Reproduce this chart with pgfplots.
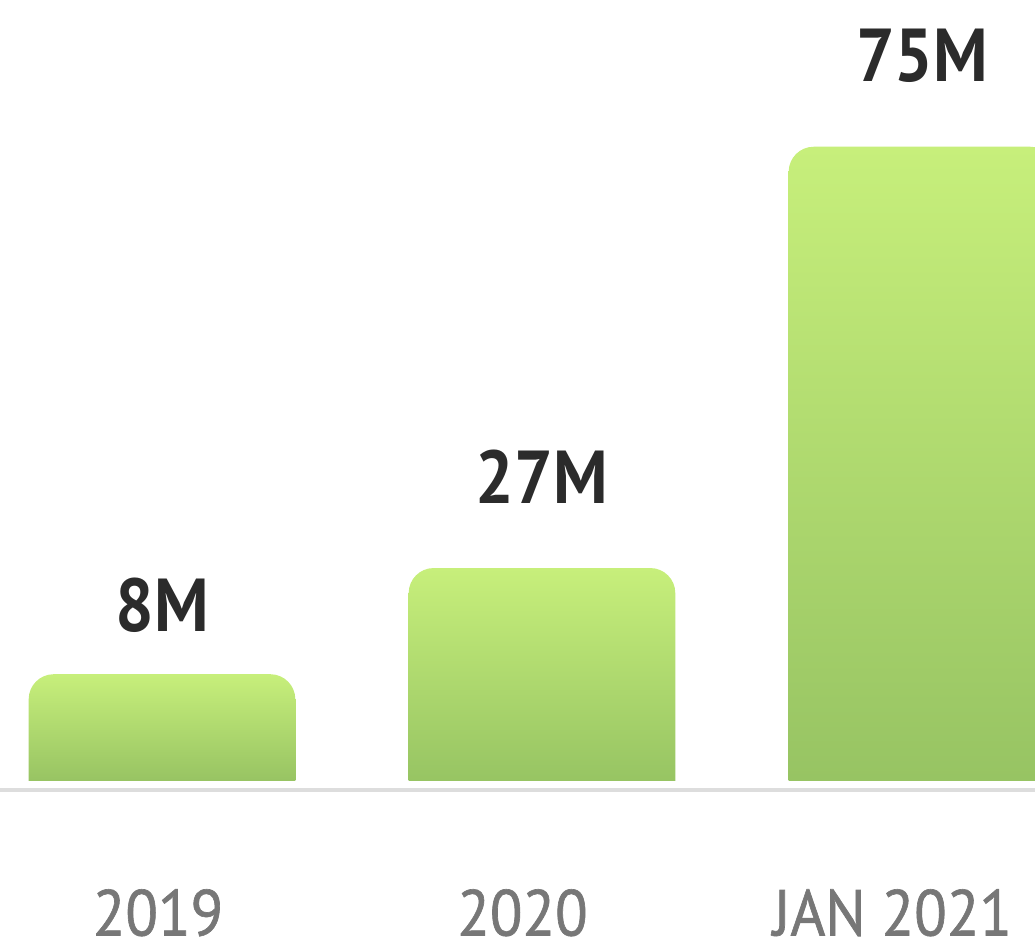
\documentclass[border=0pt]{standalone}
\usepackage{fontspec}
\setmainfont{PT Sans}
\newfontfamily\yearfont[FakeStretch=0.92, FakeBold=1]{PT Sans}
\newfontfamily\valuefont[FakeStretch=0.91]{PT Sans Bold}
\usepackage{pgfplots}
\pgfplotsset{compat=1.18}
\definecolor{barTop}{RGB}{199,239,123}
% bottom colours sit below the clipped base, so each is pushed a bit darker
\definecolor{barBotA}{RGB}{140,185,93}
\definecolor{barBotB}{RGB}{145,191,96}
\definecolor{barBotC}{RGB}{149,194,98}
\definecolor{labelGray}{RGB}{119,119,119}
\definecolor{valueDark}{RGB}{43,43,43}
\definecolor{lineGray}{RGB}{221,221,221}

\begin{document}
\begin{tikzpicture}
  \begin{axis}[
      scale only axis, width=1035pt, height=780.7pt,
      xmin=-0.4263, xmax=2.2974, ymin=0, ymax=92.36,
      % bars are lifted by 3.1 and pushed down by the same amount, so their
      % rounded bottom corners fall below the clipped axis floor
      y filter/.expression={y+3.1},
      axis line style={draw=none}, major tick length=0pt,
      ytick=\empty,
      xtick={-0.0105,0.9487,1.9224},
      xticklabels={2019,2020,JAN 2021},
      xticklabel style={anchor=base, inner sep=0pt, yshift=-154.8pt,
        font=\yearfont\fontsize{65}{78}\selectfont, text=labelGray},
      ybar, bar width=266.6pt, bar shift=0pt,
      nodes near coords, point meta=explicit symbolic,
      every node near coord/.append style={anchor=base, inner sep=0pt,
        font=\valuefont\fontsize{75}{90}\selectfont, text=valueDark},
      clip=true,
    ]
    \coordinate (bl) at (rel axis cs:0,0);
    \coordinate (br) at (rel axis cs:1,0);
    \coordinate (tr) at (rel axis cs:1,1);

    % bar heights as drawn, labels as printed
    \addplot[draw=none, top color=barTop, bottom color=barBotA, rounded corners=25pt,
      yshift=-26.2pt, every node near coord/.append style={yshift=42.6pt}]
      coordinates {(0,12.6) [8M]};
    \addplot[draw=none, top color=barTop, bottom color=barBotB, rounded corners=25pt,
      yshift=-26.2pt, every node near coord/.append style={yshift=64.7pt}]
      coordinates {(1,25.16) [27M]};
    \addplot[draw=none, top color=barTop, bottom color=barBotC, rounded corners=25pt,
      yshift=-26.2pt, every node near coord/.append style={yshift=65pt}]
      coordinates {(2,75) [75M]};
  \end{axis}
  \draw[line width=3.3pt, lineGray] ([yshift=-9.3pt]bl) -- ([yshift=-9.3pt]br);
  \pgfresetboundingbox
  \path[use as bounding box] ([yshift=-163.3pt]bl) rectangle (tr);
\end{tikzpicture}
\end{document}
